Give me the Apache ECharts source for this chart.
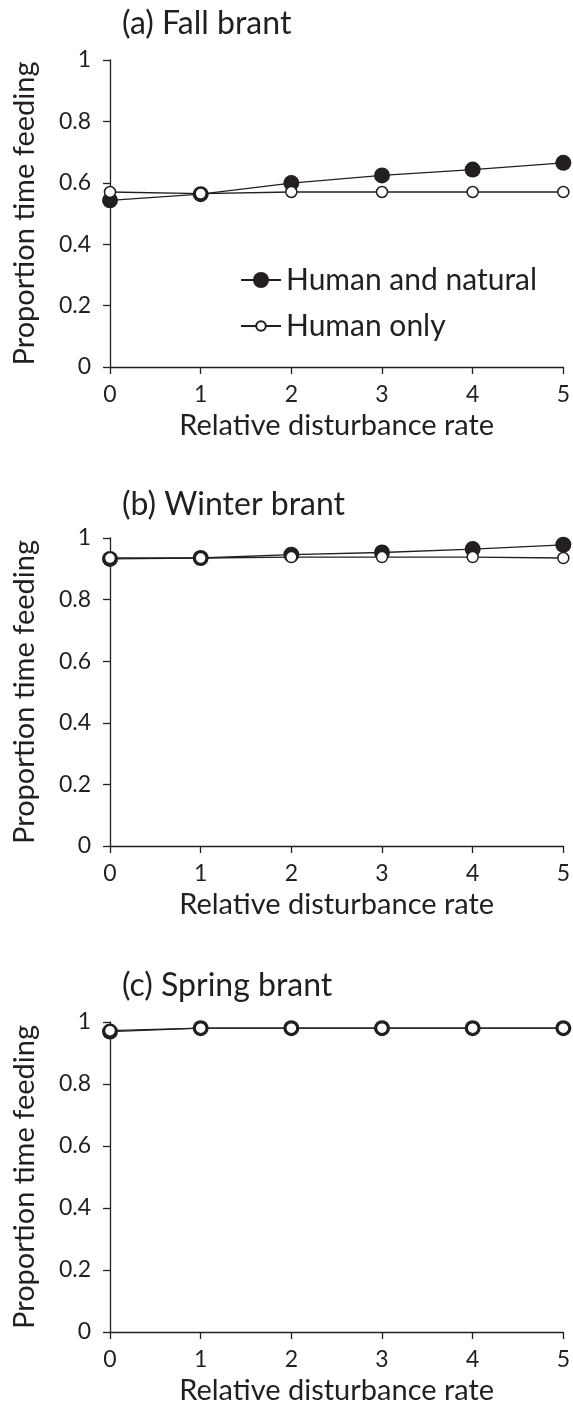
<!DOCTYPE html>
<html>
<head>
<meta charset="utf-8">
<script src="https://cdn.jsdelivr.net/npm/echarts@6/dist/echarts.min.js"></script>
<style>
  html, body { margin: 0; padding: 0; background: #fff; }
  #main { width: 573px; height: 1407px; }
</style>
</head>
<body>
<div id="main"></div>
<script>
// values
var rates = [0, 1, 2, 3, 4, 5];
var seriesNames = ['Human and natural', 'Human only'];
var panelTitles = ['(a) Fall brant', '(b) Winter brant', '(c) Spring brant'];
var fallBoth = [0.543, 0.563, 0.599, 0.624, 0.643, 0.665];
var fallHuman = [0.570, 0.565, 0.570, 0.570, 0.570, 0.570];
var winterBoth = [0.932, 0.935, 0.946, 0.953, 0.964, 0.978];
var winterHuman = [0.935, 0.935, 0.938, 0.938, 0.938, 0.935];
var springBoth = [0.969, 0.980, 0.980, 0.980, 0.980, 0.980];
var springHuman = [0.972, 0.980, 0.980, 0.980, 0.980, 0.980];

window.addEventListener('load', function () {
    var chart = echarts.init(document.getElementById('main'));
    var ink = '#231f20';
    var font = 'Lato';
    var panels = [[fallBoth, fallHuman], [winterBoth, winterHuman], [springBoth, springHuman]];
    var tops = [60, 538, 1022];
    var heights = [307, 308, 310];
    var titleTops = [8, 489, 970];

    var grid = [], xAxis = [], yAxis = [], title = [], series = [];
    for (let i = 0; i < 3; i++) {
        grid.push({ left: 110, width: 453.5, top: tops[i], height: heights[i] });
        title.push({
            text: panelTitles[i], left: 122, top: titleTops[i], padding: 0,
            textStyle: { fontFamily: font, fontSize: 32, fontWeight: 'normal', color: ink }
        });
        xAxis.push({
            type: 'value', gridIndex: i, min: 0, max: 5, interval: 1,
            name: 'Relative disturbance rate', nameLocation: 'middle', nameGap: 44,
            nameTextStyle: { fontFamily: font, fontSize: 29, color: ink },
            axisLine: { lineStyle: { color: ink, width: 1.3 } },
            axisTick: { length: 7, lineStyle: { color: ink, width: 1.3 } },
            axisLabel: { fontFamily: font, fontSize: 23, color: ink, margin: 16 },
            splitLine: { show: false }
        });
        yAxis.push({
            type: 'value', gridIndex: i, min: 0, max: 1, interval: 0.2,
            name: 'Proportion time feeding', nameLocation: 'middle', nameGap: 71,
            nameTextStyle: { fontFamily: font, fontSize: 29, color: ink },
            axisLine: { show: true, lineStyle: { color: ink, width: 1.3 } },
            axisTick: { show: true, length: 7, lineStyle: { color: ink, width: 1.3 } },
            axisLabel: { fontFamily: font, fontSize: 23, color: ink, margin: 19 },
            splitLine: { show: false }
        });
        var both = panels[i][0], human = panels[i][1];
        series.push({
            name: seriesNames[0], type: 'line', xAxisIndex: i, yAxisIndex: i,
            data: rates.map((r, k) => [r, both[k]]),
            symbol: 'circle', symbolSize: 16, z: 2,
            lineStyle: { color: ink, width: 1.3 },
            itemStyle: { color: ink }
        });
        series.push({
            name: seriesNames[1], type: 'line', xAxisIndex: i, yAxisIndex: i,
            data: rates.map((r, k) => [r, human[k]]),
            symbol: 'circle', symbolSize: 11, showAllSymbol: true, z: 3,
            lineStyle: { color: ink, width: 1.3 },
            itemStyle: { color: '#fff', borderColor: ink, borderWidth: 1.5 }
        });
    }

    var option = {
        animation: false,
        backgroundColor: '#fff',
        title: title,
        grid: grid,
        xAxis: xAxis,
        yAxis: yAxis,
        legend: [{
            data: [seriesNames[0]], left: 240, top: 265, padding: 0, itemWidth: 40, itemHeight: 20,
            textStyle: { fontFamily: font, fontSize: 30, lineHeight: 24, color: ink }
        }, {
            data: [seriesNames[1]], left: 240, top: 311, padding: 0, itemWidth: 40, itemHeight: 12,
            textStyle: { fontFamily: font, fontSize: 30, lineHeight: 24, color: ink }
        }],
        series: series
    };
    chart.setOption(option);
});
</script>
</body>
</html>
